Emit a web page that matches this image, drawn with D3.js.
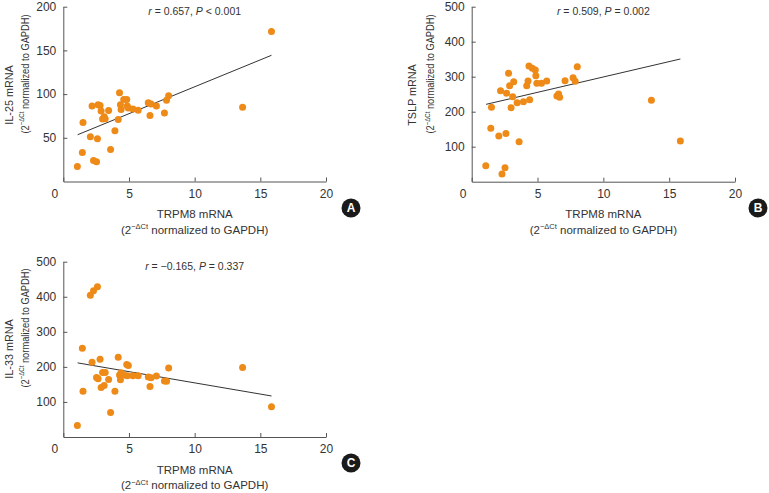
<!DOCTYPE html>
<html>
<head>
<meta charset="utf-8">
<script src="https://cdn.jsdelivr.net/npm/d3@7"></script>
<style>
  html, body { margin: 0; padding: 0; background: #fff; }
  svg { display: block; }
  text { font-family: "Liberation Sans", Arial, sans-serif; fill: #333; }
</style>
</head>
<body>
<svg id="chart" width="769" height="493"></svg>
<script>
// ---- data ----
const xTicks = [0, 5, 10, 15, 20];
const yTicksA = [50, 100, 150, 200];
const yTicksBC = [100, 200, 300, 400, 500];

const trpm8 = [1.07, 1.45, 1.5, 2.06, 2.19, 2.3, 2.53, 2.6, 2.65, 2.8, 2.88, 2.99, 3.11, 3.19, 3.45, 3.6, 3.93, 4.18,
  4.28, 4.35, 4.4, 4.6, 4.83, 4.87, 4.95, 5.3, 5.7, 6.47, 6.6, 6.68, 7.09, 7.7, 7.86, 8.02, 13.65, 15.85];
const il25 = [17.2, 33.2, 67.5, 51.2, 86.3, 24, 22.5, 48.9, 87.7, 87, 80.8, 71.5, 74.2, 71.9, 81.2, 36.7, 58, 71,
  101.5, 87.8, 82.4, 93.8, 93.8, 86.3, 84, 83, 81.5, 90, 75.5, 88.8, 86.3, 78.5, 93, 98, 85, 171.5];
const tslp = [45.7, 152.6, 212.6, 130.6, 260, 22, 40, 138, 253, 309.7, 274, 211.4, 243, 285.7, 225.7, 114.3, 228.6, 274,
  287.7, 330.6, 234, 324, 319, 303, 281, 281, 287.7, 245, 250.6, 241, 288.6, 297, 287, 328.6, 233, 116];
const il33 = [33, 253, 130.6, 404, 213.4, 417, 170, 428.6, 166, 222, 141, 184, 147, 184, 164, 69.7, 130.6, 227.7,
  176.6, 163, 183, 177, 206.7, 175, 204, 175, 175, 171, 144, 169, 174, 160, 159, 197, 198, 86];

const fitA = [[1.09, 53.5], [15.85, 144.4]];
const fitB = [[1.09, 221], [15.85, 350.6]];
const fitC = [[1.09, 211.4], [15.85, 117]];

const yTitles = ["IL-25 mRNA", "TSLP mRNA", "IL-33 mRNA"];
const stats = [
  { r: "0.657", p: "<", pv: "0.001" },
  { r: "0.509", p: "=", pv: "0.002" },
  { r: "\u22120.165", p: "=", pv: "0.337" }
];
const panelLetters = ["A", "B", "C"];

// ---- layout ----
const panels = [
  { left: 63.3, top: 6.7, right: 326, bottom: 181.5, yMax: 200, yTicks: yTicksA, ys: il25, fit: fitA,
    yl1x: 8.5, yl1y: 95, yl2x: 24.5, yl2y: 74, letterX: 351, letterY: 208 },
  { left: 471.7, top: 6.7, right: 735, bottom: 181.7, yMax: 500, yTicks: yTicksBC, ys: tslp, fit: fitB,
    yl1x: 412, yl1y: 95, yl2x: 430, yl2y: 74, letterX: 758, letterY: 208 },
  { left: 63.3, top: 261.7, right: 326, bottom: 437, yMax: 500, yTicks: yTicksBC, ys: il33, fit: fitC,
    yl1x: 8.5, yl1y: 349, yl2x: 24.5, yl2y: 328, letterX: 351, letterY: 463 }
];

const svg = d3.select("#chart");
const dotColor = "#EE8A17";
const axisColor = "#555";

function superLabel(sel) {
  sel.append("tspan").text("(2");
  sel.append("tspan").attr("dy", -4.5).style("font-size", "7.5px").text("\u2212\u0394Ct");
  sel.append("tspan").attr("dy", 4.5).text(" normalized to GAPDH)");
}

panels.forEach((p, i) => {
  const x = d3.scaleLinear().domain([0, 20]).range([p.left, p.right]);
  const y = d3.scaleLinear().domain([0, p.yMax]).range([p.bottom, p.top]);
  const g = svg.append("g");

  // x axis
  const xa = g.append("g").attr("transform", `translate(0,${p.bottom})`)
    .call(d3.axisBottom(x).tickValues(xTicks).tickSizeInner(-4).tickSizeOuter(0).tickPadding(7.5));
  xa.selectAll("text").style("font-size", "12px").attr("fill", "#333")
    .attr("dx", d => d === 0 ? -9 : 0);
  xa.select(".domain").attr("stroke", axisColor);
  xa.selectAll(".tick line").attr("stroke", axisColor);

  // y axis
  const ya = g.append("g").attr("transform", `translate(${p.left},0)`)
    .call(d3.axisLeft(y).tickValues(p.yTicks).tickSizeInner(-4).tickSizeOuter(0).tickPadding(7));
  ya.selectAll("text").style("font-size", "12px").attr("fill", "#333");
  ya.select(".domain").attr("stroke", axisColor);
  ya.selectAll(".tick line").attr("stroke", axisColor);

  // fit line
  g.append("line")
    .attr("x1", x(p.fit[0][0])).attr("y1", y(p.fit[0][1]))
    .attr("x2", x(p.fit[1][0])).attr("y2", y(p.fit[1][1]))
    .attr("stroke", "#333").attr("stroke-width", 1);

  // dots
  g.selectAll("circle.dot").data(trpm8.map((v, k) => [v, p.ys[k]])).enter()
    .append("circle").attr("class", "dot")
    .attr("cx", d => x(d[0])).attr("cy", d => y(d[1])).attr("r", 3.5)
    .attr("fill", dotColor);

  // stats
  const st = g.append("text").attr("x", (p.left + p.right) / 2).attr("y", p.top + 8)
    .attr("text-anchor", "middle").style("font-size", "10.5px").attr("fill", "#444");
  st.append("tspan").style("font-style", "italic").text("r");
  st.append("tspan").text(` = ${stats[i].r}, `);
  st.append("tspan").style("font-style", "italic").text("P");
  st.append("tspan").text(` ${stats[i].p} ${stats[i].pv}`);

  // x title
  const cx = (p.left + p.right) / 2;
  g.append("text").attr("x", cx).attr("y", p.bottom + 36.5).attr("text-anchor", "middle")
    .style("font-size", "11.5px").text("TRPM8 mRNA");
  const xt2 = g.append("text").attr("x", cx).attr("y", p.bottom + 52).attr("text-anchor", "middle")
    .style("font-size", "11.5px");
  superLabel(xt2);

  // y titles (rotated, slightly condensed)
  g.append("text").attr("transform", `translate(${p.yl1x},${p.yl1y}) rotate(-90) scale(0.94,1)`)
    .attr("text-anchor", "middle").attr("dy", "0.35em").style("font-size", "11.5px").text(yTitles[i]);
  const yt2 = g.append("text").attr("transform", `translate(${p.yl2x},${p.yl2y}) rotate(-90) scale(0.81,1)`)
    .attr("text-anchor", "middle").attr("dy", "0.35em").style("font-size", "11.5px");
  superLabel(yt2);

  // panel letter
  g.append("circle").attr("cx", p.letterX).attr("cy", p.letterY).attr("r", 9.5).attr("fill", "#1a1a1a");
  g.append("text").attr("x", p.letterX).attr("y", p.letterY).attr("dy", "0.36em")
    .attr("text-anchor", "middle").style("font-size", "12px").style("font-weight", "bold")
    .style("fill", "#fff").text(panelLetters[i]);
});
</script>
</body>
</html>
